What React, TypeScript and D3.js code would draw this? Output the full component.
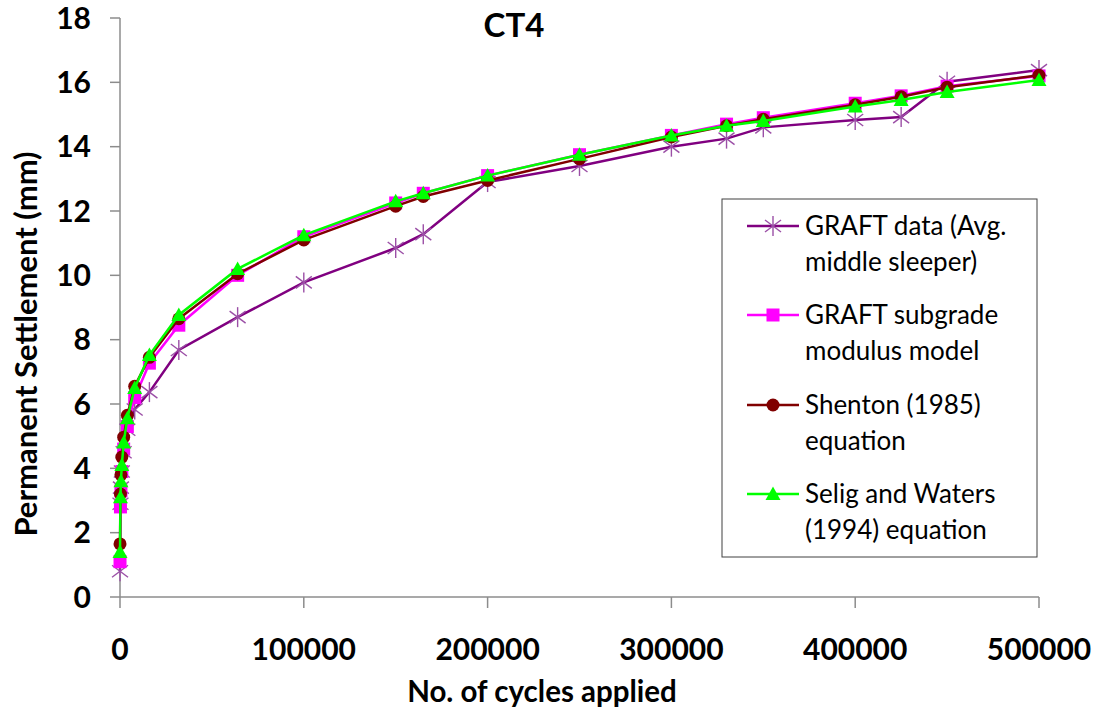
import React from "react";
import * as d3 from "d3";

const cycles = [10, 250, 500, 1000, 2000, 4000, 8000, 16000, 32000, 64000, 100000, 150000, 165000, 200000, 250000, 300000, 330000, 350000, 400000, 425000, 450000, 500000];

const graftData = [0.8, 2.9, 3.4, 3.9, 4.5, 5.2, 5.83, 6.37, 7.68, 8.7, 9.78, 10.85, 11.28, 12.9, 13.4, 14.0, 14.25, 14.6, 14.83, 14.92, 16.02, 16.38];
const subgradeModel = [1.1, 2.8, 3.3, 3.9, 4.6, 5.3, 6.2, 7.27, 8.45, 10.0, 11.2, 12.25, 12.55, 13.1, 13.75, 14.35, 14.7, 14.9, 15.35, 15.58, 15.88, 16.2];
const shenton = [1.65, 3.2, 3.8, 4.35, 4.97, 5.65, 6.55, 7.45, 8.65, 10.05, 11.1, 12.15, 12.45, 12.95, 13.62, 14.3, 14.65, 14.85, 15.3, 15.55, 15.85, 16.22];
const seligWaters = [1.4, 3.1, 3.6, 4.1, 4.8, 5.56, 6.5, 7.52, 8.77, 10.2, 11.25, 12.3, 12.55, 13.1, 13.75, 14.35, 14.65, 14.8, 15.25, 15.45, 15.7, 16.07];

const xTicks = [0, 100000, 200000, 300000, 400000, 500000];
const yTicks = [0, 2, 4, 6, 8, 10, 12, 14, 16, 18];

const legendLines = [
  ["GRAFT data (Avg.", "middle sleeper)"],
  ["GRAFT subgrade", "modulus model"],
  ["Shenton (1985)", "equation"],
  ["Selig and Waters", "(1994) equation"],
];

const FONT = "Lato, 'Open Sans', sans-serif";

type Series = { values: number[]; line: string; marker: string; kind: string };
const series: Series[] = [
  { values: graftData, line: "#800080", marker: "#9B4FA6", kind: "asterisk" },
  { values: subgradeModel, line: "#FF00FF", marker: "#FF00FF", kind: "square" },
  { values: shenton, line: "#800000", marker: "#800000", kind: "circle" },
  { values: seligWaters, line: "#00FF00", marker: "#00FF00", kind: "triangle" },
];

function Marker({ kind, x, y, color }: { kind: string; x: number; y: number; color: string }) {
  if (kind === "asterisk") {
    const r = 10;
    const d = r * 0.8;
    return (
      <g stroke={color} strokeWidth={1.4}>
        <line x1={x} y1={y - r} x2={x} y2={y + r} />
        <line x1={x - d} y1={y - d * 0.75} x2={x + d} y2={y + d * 0.75} />
        <line x1={x - d} y1={y + d * 0.75} x2={x + d} y2={y - d * 0.75} />
      </g>
    );
  }
  if (kind === "square") {
    return <rect x={x - 6.5} y={y - 6.5} width={13} height={13} fill={color} />;
  }
  if (kind === "circle") {
    return <circle cx={x} cy={y} r={6.5} fill={color} />;
  }
  const s = 7.5;
  return <path d={`M${x},${y - s}L${x + s},${y + s * 0.8}L${x - s},${y + s * 0.8}Z`} fill={color} />;
}

export default function App() {
  const x = d3.scaleLinear().domain([0, 500000]).range([120, 1039]);
  const y = d3.scaleLinear().domain([0, 18]).range([597, 18]);
  const line = d3
    .line<[number, number]>()
    .x((d) => x(d[0]))
    .y((d) => y(d[1]));

  const legX = 722;
  const legRowY = [226, 315, 405, 494];

  return (
    <svg width={1101} height={713} style={{ position: "absolute", left: 0, top: 0, background: "#fff" }} fontFamily={FONT}>
      <rect width={1101} height={713} fill="#fff" />
      {/* axes */}
      <g stroke="#8C8C8C" strokeWidth={1.5} fill="none">
        <line x1={x(0)} y1={y(0)} x2={x(500000)} y2={y(0)} />
        <line x1={x(0)} y1={y(0)} x2={x(0)} y2={y(18)} />
        {xTicks.map((t) => (
          <line key={t} x1={x(t)} x2={x(t)} y1={y(0)} y2={y(0) + 11} />
        ))}
        {yTicks.map((t) => (
          <line key={t} x1={x(0) - 10} x2={x(0)} y1={y(t)} y2={y(t)} />
        ))}
      </g>
      {xTicks.map((t) => (
        <text key={t} x={x(t)} y={660} textAnchor="middle" fontSize={30} fontWeight="bold" fill="#000">
          {t}
        </text>
      ))}
      {yTicks.map((t) => (
        <text key={t} x={91} y={y(t)} dy="0.36em" textAnchor="end" fontSize={30} fontWeight="bold" fill="#000">
          {t}
        </text>
      ))}
      <text x={542} y={702} textAnchor="middle" fontSize={29.5} fontWeight="bold" fill="#000">
        No. of cycles applied
      </text>
      <text transform="translate(37,344) rotate(-90)" textAnchor="middle" fontSize={31} fontWeight="bold" fill="#000">
        Permanent Settlement (mm)
      </text>
      <text x={514} y={37} textAnchor="middle" fontSize={33} fontWeight="bold" fill="#000">
        CT4
      </text>
      {/* series */}
      {series.map((s, i) => {
        const pts: [number, number][] = cycles.map((c, j) => [c, s.values[j]]);
        return (
          <g key={i}>
            <path d={line(pts) || ""} fill="none" stroke={s.line} strokeWidth={2.5} />
            {pts.map((p, j) => (
              <Marker key={j} kind={s.kind} x={x(p[0])} y={y(p[1])} color={s.marker} />
            ))}
          </g>
        );
      })}
      {/* legend */}
      <rect x={legX} y={199} width={315} height={358} fill="#fff" stroke="#404040" strokeWidth={1} />
      {series.map((s, i) => (
        <g key={i}>
          <line x1={747} x2={799} y1={legRowY[i]} y2={legRowY[i]} stroke={s.line} strokeWidth={2.5} />
          <Marker kind={s.kind} x={773} y={legRowY[i]} color={s.marker} />
          <text x={805} y={legRowY[i] + 9} fontSize={26} fill="#000">
            {legendLines[i][0]}
          </text>
          <text x={805} y={legRowY[i] + 45} fontSize={26} fill="#000">
            {legendLines[i][1]}
          </text>
        </g>
      ))}
    </svg>
  );
}
